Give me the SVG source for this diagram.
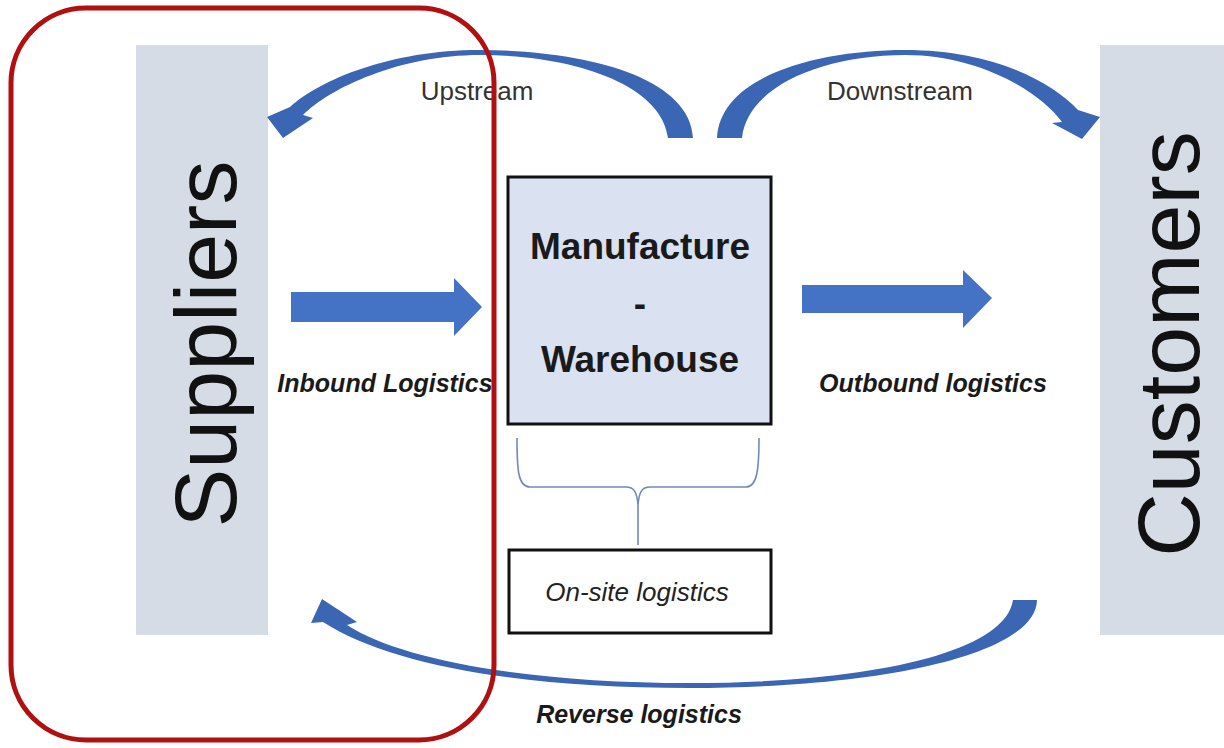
<svg xmlns="http://www.w3.org/2000/svg" width="1224" height="748" viewBox="0 0 1224 748">
<style>
.bar{fill:#d6dce5}
.bigtxt{font-family:"Liberation Sans",Arial,sans-serif;font-size:88px;fill:#111}
.box{stroke:#111;stroke-width:3}
.mtxt{font-family:"Liberation Sans",Arial,sans-serif;font-size:37px;font-weight:bold;fill:#1a1a1a;text-anchor:middle}
.lbl{font-family:"Liberation Sans",Arial,sans-serif;font-size:25px;font-weight:bold;font-style:italic;fill:#1a1a1a}
.flow{font-family:"Liberation Sans",Arial,sans-serif;font-size:26px;fill:#333}
.arrow{fill:#4472c4}
.arc{fill:#3a66b4}
</style>
<rect width="1224" height="748" fill="#fff"/>
<g id="suppliers">
<rect class="bar" x="136" y="45" width="132" height="590"/>
<text class="bigtxt" transform="translate(236,344) rotate(-90)" text-anchor="middle">Suppliers</text>
</g>
<g id="customers">
<rect class="bar" x="1100" y="45" width="124" height="590"/>
<text class="bigtxt" transform="translate(1199,344) rotate(-90)" text-anchor="middle">Customers</text>
</g>
<g id="manufacture">
<rect class="box" x="508" y="177" width="263" height="247" fill="#dae2f2"/>
<text class="mtxt" x="640" y="259">Manufacture</text>
<text class="mtxt" x="640" y="316">-</text>
<text class="mtxt" x="640" y="372">Warehouse</text>
</g>
<g id="onsite">
<rect class="box" x="509" y="550" width="262" height="83" fill="#fff"/>
<text x="637" y="601" font-family="Liberation Sans, Arial, sans-serif" font-size="26" font-style="italic" fill="#222" text-anchor="middle">On-site logistics</text>
</g>
<g id="connectors">
<path class="arc" d="M668,138 L693,138 C690,75 580,50 480,50 C390,50 320,80 290,107 L267,117 L283,138 L313,118 L303,115 C330,88 400,55 480,55 C575,55 662,85 668,138 Z"/>
<path class="arc" d="M742,138 L717,138 C720,75 820,50 905,50 C990,50 1050,80 1078,110 L1100,117 L1082,139 L1052,123 L1062,122 C1040,92 980,55 905,55 C825,55 748,85 742,138 Z"/>
<path class="arc" d="M1013,600 L1037,600 C1036,655 880,688 690,688 C520,688 390,665 323,622 L311,623 L322,599 L357,622 L347,625 C400,660 530,683 690,683 C860,683 1005,655 1013,600 Z"/>
<path class="arrow" d="M291,292 L454,292 L454,278 L482,307 L454,336 L454,322 L291,322 Z"/>
<path class="arrow" d="M802,285 L963,285 L963,270 L992,298 L963,328 L963,313 L802,313 Z"/>
<path d="M517,438 C517,470 518,487 530,487 L626,487 C634,487 637,492 638,505 L638,545 M638,505 C639,492 642,487 650,487 L746,487 C757,487 759,470 759,438" fill="none" stroke="#7189ba" stroke-width="1.6"/>
</g>
<g id="labels">
<text class="flow" x="477" y="100" text-anchor="middle">Upstream</text>
<text class="flow" x="900" y="100" text-anchor="middle">Downstream</text>
<text class="lbl" x="385" y="392" text-anchor="middle">Inbound Logistics</text>
<text class="lbl" x="933" y="392" text-anchor="middle">Outbound logistics</text>
<text class="lbl" x="639" y="723" text-anchor="middle">Reverse logistics</text>
</g>
<g id="highlight">
<rect x="11" y="8" width="483" height="732" rx="75" ry="75" fill="none" stroke="#b0100f" stroke-width="5"/>
</g>
</svg>
